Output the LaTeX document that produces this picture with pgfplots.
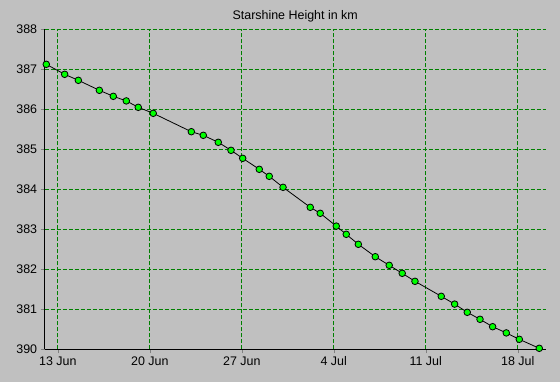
\documentclass[border=0pt]{standalone}
\usepackage{pgfplots}
\pgfplotsset{compat=1.18}
\usepackage{fontspec}
\setmainfont{Liberation Sans}
\definecolor{bg}{HTML}{C0C0C0}
\definecolor{gridgreen}{HTML}{008000}
\definecolor{ptgreen}{HTML}{00FF00}
\begin{document}
\begin{tikzpicture}
\fill[bg] (-44.7bp,-32.7bp) rectangle (515.3bp,349.3bp);
\begin{axis}[
  at={(0,0)}, anchor=south west,
  scale only axis,
  width=501bp, height=320bp,
  xmin=0, xmax=38.13,
  ymin=380, ymax=388,
  axis x line*=bottom, axis y line*=left,
  axis line style={black, line width=1bp, -},
  xtick={1,8,15,22,29,36},
  xticklabels={13 Jun,20 Jun,27 Jun,4 Jul,11 Jul,18 Jul},
  ytick={380,381,382,383,384,385,386,387,388},
  yticklabels={390,381,382,383,384,385,386,387,388},
  tick align=outside,
  major tick length=4bp,
  xmajorgrids=true, ymajorgrids=true,
  x grid style={gridgreen, line width=1.2bp, dash pattern=on 4bp off 2bp},
  y grid style={gridgreen, line width=1.2bp, dash pattern=on 4bp off 2bp},
  ticklabel style={font=\fontsize{12.5}{14}\selectfont},
  /pgf/number format/assume math mode=true,
  title={Starshine Height in km},
  title style={font=\fontsize{12.5}{14}\selectfont, yshift=-2bp},
  clip=false,
]
\addplot[black, line width=0.8bp, mark=*, mark size=3.3bp,
  mark options={fill=ptgreen, draw=black, line width=0.8bp}] coordinates {
(0.12,387.125)(1.52,386.875)(2.56,386.725)(4.16,386.475)(5.22,386.325)
(6.21,386.21)(7.12,386.05)(8.26,385.90)(11.16,385.44)(12.07,385.35)
(13.21,385.175)(14.18,384.975)(15.07,384.775)(16.33,384.50)(17.09,384.325)
(18.14,384.05)(20.21,383.55)(20.97,383.40)(22.19,383.08)(22.95,382.875)
(23.87,382.625)(25.16,382.315)(26.22,382.10)(27.21,381.90)(28.18,381.70)
(30.18,381.325)(31.20,381.13)(32.16,380.925)(33.13,380.75)(34.09,380.565)
(35.13,380.41)(36.12,380.25)(37.64,380.025)
};
\end{axis}
\pgfresetboundingbox
\path (-44.7bp,-32.7bp) rectangle (515.3bp,349.3bp);
\end{tikzpicture}
\end{document}
